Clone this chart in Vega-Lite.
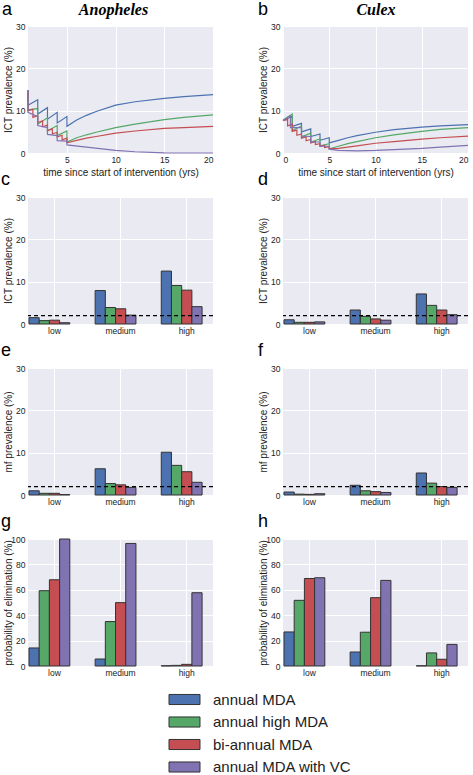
{
"$schema":"https://vega.github.io/schema/vega-lite/v6.json",
"padding":{"left":1,"top":1,"right":0,"bottom":0},
"datasets":{
"bars":[
{"v":"A","m":"ICT","l":"low","annual MDA":1.5,"annual high MDA":0.8,"bi-annual MDA":0.9,"annual MDA with VC":0.3},
{"v":"A","m":"ICT","l":"medium","annual MDA":7.9,"annual high MDA":3.9,"bi-annual MDA":3.6,"annual MDA with VC":2.1},
{"v":"A","m":"ICT","l":"high","annual MDA":12.5,"annual high MDA":9.1,"bi-annual MDA":8.0,"annual MDA with VC":4.1},
{"v":"C","m":"ICT","l":"low","annual MDA":1.0,"annual high MDA":0.4,"bi-annual MDA":0.4,"annual MDA with VC":0.5},
{"v":"C","m":"ICT","l":"medium","annual MDA":3.3,"annual high MDA":1.8,"bi-annual MDA":1.2,"annual MDA with VC":0.9},
{"v":"C","m":"ICT","l":"high","annual MDA":7.1,"annual high MDA":4.4,"bi-annual MDA":3.3,"annual MDA with VC":2.2},
{"v":"A","m":"mf","l":"low","annual MDA":1.0,"annual high MDA":0.4,"bi-annual MDA":0.4,"annual MDA with VC":0.1},
{"v":"A","m":"mf","l":"medium","annual MDA":6.2,"annual high MDA":2.7,"bi-annual MDA":2.4,"annual MDA with VC":1.8},
{"v":"A","m":"mf","l":"high","annual MDA":10.1,"annual high MDA":7.0,"bi-annual MDA":5.5,"annual MDA with VC":3.0},
{"v":"C","m":"mf","l":"low","annual MDA":0.7,"annual high MDA":0.2,"bi-annual MDA":0.15,"annual MDA with VC":0.3},
{"v":"C","m":"mf","l":"medium","annual MDA":2.3,"annual high MDA":1.0,"bi-annual MDA":0.8,"annual MDA with VC":0.6},
{"v":"C","m":"mf","l":"high","annual MDA":5.2,"annual high MDA":2.8,"bi-annual MDA":2.0,"annual MDA with VC":1.8},
{"v":"A","m":"el","l":"low","annual MDA":14.2,"annual high MDA":59.3,"bi-annual MDA":67.9,"annual MDA with VC":100},
{"v":"A","m":"el","l":"medium","annual MDA":5.5,"annual high MDA":35,"bi-annual MDA":49.9,"annual MDA with VC":96.5},
{"v":"A","m":"el","l":"high","annual MDA":0.2,"annual high MDA":0.5,"bi-annual MDA":1.3,"annual MDA with VC":57.7},
{"v":"C","m":"el","l":"low","annual MDA":26.8,"annual high MDA":51.7,"bi-annual MDA":68.9,"annual MDA with VC":69.5},
{"v":"C","m":"el","l":"medium","annual MDA":11,"annual high MDA":26.6,"bi-annual MDA":53.8,"annual MDA with VC":67.4},
{"v":"C","m":"el","l":"high","annual MDA":0.2,"annual high MDA":10.3,"bi-annual MDA":5.3,"annual MDA with VC":17}
],
"lines":[
{"v":"A","s":"annual MDA","t":1,"p":14.8},{"v":"A","s":"annual MDA","t":1,"p":11.3},{"v":"A","s":"annual MDA","t":2,"p":12.6},{"v":"A","s":"annual MDA","t":2,"p":9.2},{"v":"A","s":"annual MDA","t":3,"p":10.7},{"v":"A","s":"annual MDA","t":3,"p":8.0},{"v":"A","s":"annual MDA","t":4,"p":9.6},{"v":"A","s":"annual MDA","t":4,"p":7.1},{"v":"A","s":"annual MDA","t":5,"p":8.6},{"v":"A","s":"annual MDA","t":5,"p":6.3},{"v":"A","s":"annual MDA","t":6,"p":7.8},{"v":"A","s":"annual MDA","t":7,"p":8.9},{"v":"A","s":"annual MDA","t":8,"p":9.8},{"v":"A","s":"annual MDA","t":10,"p":11.3},{"v":"A","s":"annual MDA","t":12,"p":12.1},{"v":"A","s":"annual MDA","t":15,"p":12.9},{"v":"A","s":"annual MDA","t":17,"p":13.3},{"v":"A","s":"annual MDA","t":20,"p":13.8},
{"v":"A","s":"annual high MDA","t":1,"p":14.8},{"v":"A","s":"annual high MDA","t":1,"p":10.2},{"v":"A","s":"annual high MDA","t":2,"p":10.5},{"v":"A","s":"annual high MDA","t":2,"p":6.8},{"v":"A","s":"annual high MDA","t":3,"p":8.3},{"v":"A","s":"annual high MDA","t":3,"p":5.2},{"v":"A","s":"annual high MDA","t":4,"p":6.5},{"v":"A","s":"annual high MDA","t":4,"p":4.1},{"v":"A","s":"annual high MDA","t":5,"p":5.2},{"v":"A","s":"annual high MDA","t":5,"p":2.6},{"v":"A","s":"annual high MDA","t":6,"p":3.6},{"v":"A","s":"annual high MDA","t":7,"p":4.3},{"v":"A","s":"annual high MDA","t":8,"p":4.9},{"v":"A","s":"annual high MDA","t":10,"p":6.0},{"v":"A","s":"annual high MDA","t":12,"p":6.8},{"v":"A","s":"annual high MDA","t":15,"p":7.9},{"v":"A","s":"annual high MDA","t":17,"p":8.4},{"v":"A","s":"annual high MDA","t":20,"p":9.0},
{"v":"A","s":"bi-annual MDA","t":1,"p":14.8},{"v":"A","s":"bi-annual MDA","t":1,"p":10.0},{"v":"A","s":"bi-annual MDA","t":1.5,"p":10.3},{"v":"A","s":"bi-annual MDA","t":1.5,"p":8.4},{"v":"A","s":"bi-annual MDA","t":2,"p":8.8},{"v":"A","s":"bi-annual MDA","t":2,"p":7.2},{"v":"A","s":"bi-annual MDA","t":2.5,"p":7.6},{"v":"A","s":"bi-annual MDA","t":2.5,"p":6.2},{"v":"A","s":"bi-annual MDA","t":3,"p":6.6},{"v":"A","s":"bi-annual MDA","t":3,"p":5.3},{"v":"A","s":"bi-annual MDA","t":3.5,"p":5.7},{"v":"A","s":"bi-annual MDA","t":3.5,"p":4.5},{"v":"A","s":"bi-annual MDA","t":4,"p":4.9},{"v":"A","s":"bi-annual MDA","t":4,"p":3.8},{"v":"A","s":"bi-annual MDA","t":4.5,"p":4.2},{"v":"A","s":"bi-annual MDA","t":4.5,"p":3.1},{"v":"A","s":"bi-annual MDA","t":5,"p":3.5},{"v":"A","s":"bi-annual MDA","t":5,"p":2.4},{"v":"A","s":"bi-annual MDA","t":6,"p":3.0},{"v":"A","s":"bi-annual MDA","t":7,"p":3.5},{"v":"A","s":"bi-annual MDA","t":8,"p":3.9},{"v":"A","s":"bi-annual MDA","t":10,"p":4.7},{"v":"A","s":"bi-annual MDA","t":12,"p":5.2},{"v":"A","s":"bi-annual MDA","t":15,"p":5.8},{"v":"A","s":"bi-annual MDA","t":17,"p":6.0},{"v":"A","s":"bi-annual MDA","t":20,"p":6.3},
{"v":"A","s":"annual MDA with VC","t":1,"p":14.8},{"v":"A","s":"annual MDA with VC","t":1,"p":9.6},{"v":"A","s":"annual MDA with VC","t":2,"p":8.6},{"v":"A","s":"annual MDA with VC","t":2,"p":6.5},{"v":"A","s":"annual MDA with VC","t":3,"p":6.0},{"v":"A","s":"annual MDA with VC","t":3,"p":4.4},{"v":"A","s":"annual MDA with VC","t":4,"p":4.1},{"v":"A","s":"annual MDA with VC","t":4,"p":2.9},{"v":"A","s":"annual MDA with VC","t":5,"p":2.8},{"v":"A","s":"annual MDA with VC","t":5,"p":1.9},{"v":"A","s":"annual MDA with VC","t":7,"p":1.4},{"v":"A","s":"annual MDA with VC","t":10,"p":0.6},{"v":"A","s":"annual MDA with VC","t":12,"p":0.3},{"v":"A","s":"annual MDA with VC","t":15,"p":0.05},{"v":"A","s":"annual MDA with VC","t":20,"p":0.0},
{"v":"C","s":"annual MDA","t":0,"p":7.6},{"v":"C","s":"annual MDA","t":1,"p":8.7},{"v":"C","s":"annual MDA","t":1,"p":6.3},{"v":"C","s":"annual MDA","t":2,"p":7.0},{"v":"C","s":"annual MDA","t":2,"p":5.0},{"v":"C","s":"annual MDA","t":3,"p":5.7},{"v":"C","s":"annual MDA","t":3,"p":3.9},{"v":"C","s":"annual MDA","t":4,"p":4.5},{"v":"C","s":"annual MDA","t":4,"p":3.0},{"v":"C","s":"annual MDA","t":5,"p":3.6},{"v":"C","s":"annual MDA","t":5,"p":2.4},{"v":"C","s":"annual MDA","t":6,"p":3.0},{"v":"C","s":"annual MDA","t":7,"p":3.6},{"v":"C","s":"annual MDA","t":8,"p":4.1},{"v":"C","s":"annual MDA","t":10,"p":4.9},{"v":"C","s":"annual MDA","t":12,"p":5.5},{"v":"C","s":"annual MDA","t":15,"p":6.1},{"v":"C","s":"annual MDA","t":17,"p":6.4},{"v":"C","s":"annual MDA","t":20,"p":6.7},
{"v":"C","s":"annual high MDA","t":0,"p":7.8},{"v":"C","s":"annual high MDA","t":1,"p":9.2},{"v":"C","s":"annual high MDA","t":1,"p":5.3},{"v":"C","s":"annual high MDA","t":2,"p":6.4},{"v":"C","s":"annual high MDA","t":2,"p":3.8},{"v":"C","s":"annual high MDA","t":3,"p":4.7},{"v":"C","s":"annual high MDA","t":3,"p":2.6},{"v":"C","s":"annual high MDA","t":4,"p":3.3},{"v":"C","s":"annual high MDA","t":4,"p":1.7},{"v":"C","s":"annual high MDA","t":5,"p":2.2},{"v":"C","s":"annual high MDA","t":5,"p":1.0},{"v":"C","s":"annual high MDA","t":6,"p":1.6},{"v":"C","s":"annual high MDA","t":7,"p":2.2},{"v":"C","s":"annual high MDA","t":8,"p":2.7},{"v":"C","s":"annual high MDA","t":10,"p":3.6},{"v":"C","s":"annual high MDA","t":12,"p":4.3},{"v":"C","s":"annual high MDA","t":15,"p":5.1},{"v":"C","s":"annual high MDA","t":17,"p":5.6},{"v":"C","s":"annual high MDA","t":20,"p":6.0},
{"v":"C","s":"bi-annual MDA","t":0,"p":7.7},{"v":"C","s":"bi-annual MDA","t":0.5,"p":7.9},{"v":"C","s":"bi-annual MDA","t":0.5,"p":6.4},{"v":"C","s":"bi-annual MDA","t":1,"p":6.8},{"v":"C","s":"bi-annual MDA","t":1,"p":5.1},{"v":"C","s":"bi-annual MDA","t":1.5,"p":5.4},{"v":"C","s":"bi-annual MDA","t":1.5,"p":4.2},{"v":"C","s":"bi-annual MDA","t":2,"p":4.5},{"v":"C","s":"bi-annual MDA","t":2,"p":3.5},{"v":"C","s":"bi-annual MDA","t":2.5,"p":3.8},{"v":"C","s":"bi-annual MDA","t":2.5,"p":2.9},{"v":"C","s":"bi-annual MDA","t":3,"p":3.2},{"v":"C","s":"bi-annual MDA","t":3,"p":2.4},{"v":"C","s":"bi-annual MDA","t":3.5,"p":2.7},{"v":"C","s":"bi-annual MDA","t":3.5,"p":2.0},{"v":"C","s":"bi-annual MDA","t":4,"p":2.2},{"v":"C","s":"bi-annual MDA","t":4,"p":1.6},{"v":"C","s":"bi-annual MDA","t":4.5,"p":1.8},{"v":"C","s":"bi-annual MDA","t":4.5,"p":1.3},{"v":"C","s":"bi-annual MDA","t":5,"p":1.5},{"v":"C","s":"bi-annual MDA","t":5,"p":1.0},{"v":"C","s":"bi-annual MDA","t":6,"p":1.1},{"v":"C","s":"bi-annual MDA","t":7,"p":1.4},{"v":"C","s":"bi-annual MDA","t":8,"p":1.7},{"v":"C","s":"bi-annual MDA","t":10,"p":2.3},{"v":"C","s":"bi-annual MDA","t":12,"p":2.7},{"v":"C","s":"bi-annual MDA","t":15,"p":3.3},{"v":"C","s":"bi-annual MDA","t":17,"p":3.6},{"v":"C","s":"bi-annual MDA","t":20,"p":4.0},
{"v":"C","s":"annual MDA with VC","t":0,"p":7.7},{"v":"C","s":"annual MDA with VC","t":0.8,"p":8.8},{"v":"C","s":"annual MDA with VC","t":0.8,"p":6.0},{"v":"C","s":"annual MDA with VC","t":2,"p":6.0},{"v":"C","s":"annual MDA with VC","t":2,"p":4.0},{"v":"C","s":"annual MDA with VC","t":3,"p":3.9},{"v":"C","s":"annual MDA with VC","t":3,"p":2.6},{"v":"C","s":"annual MDA with VC","t":4,"p":2.6},{"v":"C","s":"annual MDA with VC","t":4,"p":1.6},{"v":"C","s":"annual MDA with VC","t":5,"p":1.6},{"v":"C","s":"annual MDA with VC","t":5,"p":0.9},{"v":"C","s":"annual MDA with VC","t":6,"p":0.6},{"v":"C","s":"annual MDA with VC","t":8,"p":0.5},{"v":"C","s":"annual MDA with VC","t":10,"p":0.6},{"v":"C","s":"annual MDA with VC","t":12,"p":0.8},{"v":"C","s":"annual MDA with VC","t":15,"p":1.1},{"v":"C","s":"annual MDA with VC","t":17,"p":1.4},{"v":"C","s":"annual MDA with VC","t":20,"p":1.8}
]
},
"columns":2,
"spacing":{"row":44,"column":70},
"bounds":"flush",
"resolve":{"scale":{"color":"shared"},"legend":{"color":"independent"}},
"concat":[
{"width":185,"height":127,"title":{"text":"a","dx":-26,"dy":22},
 "data":{"name":"lines"},"transform":[{"filter":"datum.v=='A'"}],
 "layer":[
  {"transform":[{"filter":"datum.s=='annual MDA'||datum.s=='annual high MDA'"}],
   "mark":{"type":"line","strokeWidth":1.2},
   "encoding":{
    "x":{"field":"t","type":"quantitative","scale":{"domain":[1,20],"nice":false},"axis":{"title":"time since start of intervention (yrs)","values":[5,10,15,20]}},
    "y":{"field":"p","type":"quantitative","scale":{"domain":[0,30],"nice":false},"axis":{"title":"ICT prevalence (%)","values":[0,5,10,15,20,25,30]}},
    "color":{"field":"s","type":"nominal","scale":{"domain":["annual MDA","annual high MDA","bi-annual MDA","annual MDA with VC"],"range":["#4C72B0","#55A868","#C44E52","#8172B2"]},"legend":null},
    "order":[{"field":"t","type":"quantitative"},{"field":"p","type":"quantitative","sort":"descending"}]}},
  {"transform":[{"filter":"datum.s=='bi-annual MDA'||datum.s=='annual MDA with VC'"}],
   "mark":{"type":"line","strokeWidth":1.2},
   "encoding":{
    "x":{"field":"t","type":"quantitative","scale":{"domain":[1,20],"nice":false},"axis":{"orient":"top","title":"Anopheles","titleX":85,"labels":false,"grid":false,"titleFont":"Liberation Serif","titleFontStyle":"italic","titleFontWeight":"bold","titleFontSize":16,"titleColor":"black","titlePadding":9}},
    "y":{"field":"p","type":"quantitative"},
    "color":{"field":"s","type":"nominal","scale":{"domain":["annual MDA","annual high MDA","bi-annual MDA","annual MDA with VC"],"range":["#4C72B0","#55A868","#C44E52","#8172B2"]},"legend":null},
    "order":[{"field":"t","type":"quantitative"},{"field":"p","type":"quantitative","sort":"descending"}]}}
 ],
 "resolve":{"axis":{"x":"independent"}}},
{"width":185,"height":127,"title":{"text":"b","dx":-25,"dy":22},
 "data":{"name":"lines"},"transform":[{"filter":"datum.v=='C'"}],
 "layer":[
  {"transform":[{"filter":"datum.s=='annual MDA'||datum.s=='annual high MDA'"}],
   "mark":{"type":"line","strokeWidth":1.2},
   "encoding":{
    "x":{"field":"t","type":"quantitative","scale":{"domain":[0,20],"nice":false},"axis":{"title":"time since start of intervention (yrs)","values":[0,5,10,15,20]}},
    "y":{"field":"p","type":"quantitative","scale":{"domain":[0,30],"nice":false},"axis":{"title":"ICT prevalence (%)","values":[0,5,10,15,20,25,30]}},
    "color":{"field":"s","type":"nominal","scale":{"domain":["annual MDA","annual high MDA","bi-annual MDA","annual MDA with VC"],"range":["#4C72B0","#55A868","#C44E52","#8172B2"]},"legend":null},
    "order":[{"field":"t","type":"quantitative"},{"field":"p","type":"quantitative","sort":"descending"}]}},
  {"transform":[{"filter":"datum.s=='bi-annual MDA'||datum.s=='annual MDA with VC'"}],
   "mark":{"type":"line","strokeWidth":1.2},
   "encoding":{
    "x":{"field":"t","type":"quantitative","scale":{"domain":[0,20],"nice":false},"axis":{"orient":"top","title":"Culex","labels":false,"grid":false,"titleFont":"Liberation Serif","titleFontStyle":"italic","titleFontWeight":"bold","titleFontSize":16,"titleColor":"black","titlePadding":9}},
    "y":{"field":"p","type":"quantitative"},
    "color":{"field":"s","type":"nominal","scale":{"domain":["annual MDA","annual high MDA","bi-annual MDA","annual MDA with VC"],"range":["#4C72B0","#55A868","#C44E52","#8172B2"]},"legend":null},
    "order":[{"field":"t","type":"quantitative"},{"field":"p","type":"quantitative","sort":"descending"}]}}
 ],
 "resolve":{"axis":{"x":"independent"}}},
{"width":185,"height":127,"title":{"text":"c","dx":-27},
 "layer":[
  {"data":{"name":"bars"},"transform":[{"filter":"datum.v=='A'&&datum.m=='ICT'"},{"fold":["annual MDA","annual high MDA","bi-annual MDA","annual MDA with VC"],"as":["s","p"]}],
   "mark":{"type":"bar","stroke":"#333","strokeWidth":1},
   "encoding":{
    "x":{"field":"l","type":"nominal","scale":{"domain":["low","medium","high"],"paddingInner":0.383,"paddingOuter":0.09,"align":0.083},"axis":{"title":null,"labelAngle":0,"bandPosition":0.62,"labelOffset":5,"grid":true}},
    "xOffset":{"field":"s","type":"nominal","scale":{"domain":["annual MDA","annual high MDA","bi-annual MDA","annual MDA with VC"],"paddingInner":0,"paddingOuter":0}},
    "y":{"field":"p","type":"quantitative","scale":{"domain":[0,30],"nice":false},"axis":{"title":"ICT prevalence (%)","values":[0,5,10,15,20,25,30]}},
    "color":{"field":"s","type":"nominal","scale":{"domain":["annual MDA","annual high MDA","bi-annual MDA","annual MDA with VC"],"range":["#4C72B0","#55A868","#C44E52","#8172B2"]},"legend":null}}},
  {"data":{"values":[{"thr":2}]},"mark":{"type":"rule","color":"black","strokeDash":[4,3],"strokeWidth":1.2},"encoding":{"y":{"field":"thr","type":"quantitative"}}}
 ]},
{"width":185,"height":127,"title":{"text":"d","dx":-25},
 "layer":[
  {"data":{"name":"bars"},"transform":[{"filter":"datum.v=='C'&&datum.m=='ICT'"},{"fold":["annual MDA","annual high MDA","bi-annual MDA","annual MDA with VC"],"as":["s","p"]}],
   "mark":{"type":"bar","stroke":"#333","strokeWidth":1},
   "encoding":{
    "x":{"field":"l","type":"nominal","scale":{"domain":["low","medium","high"],"paddingInner":0.383,"paddingOuter":0.09,"align":0.083},"axis":{"title":null,"labelAngle":0,"bandPosition":0.62,"labelOffset":5,"grid":true}},
    "xOffset":{"field":"s","type":"nominal","scale":{"domain":["annual MDA","annual high MDA","bi-annual MDA","annual MDA with VC"],"paddingInner":0,"paddingOuter":0}},
    "y":{"field":"p","type":"quantitative","scale":{"domain":[0,30],"nice":false},"axis":{"title":"ICT prevalence (%)","values":[0,5,10,15,20,25,30]}},
    "color":{"field":"s","type":"nominal","scale":{"domain":["annual MDA","annual high MDA","bi-annual MDA","annual MDA with VC"],"range":["#4C72B0","#55A868","#C44E52","#8172B2"]},"legend":null}}},
  {"data":{"values":[{"thr":2}]},"mark":{"type":"rule","color":"black","strokeDash":[4,3],"strokeWidth":1.2},"encoding":{"y":{"field":"thr","type":"quantitative"}}}
 ]},
{"width":185,"height":127,"title":{"text":"e","dx":-27},
 "layer":[
  {"data":{"name":"bars"},"transform":[{"filter":"datum.v=='A'&&datum.m=='mf'"},{"fold":["annual MDA","annual high MDA","bi-annual MDA","annual MDA with VC"],"as":["s","p"]}],
   "mark":{"type":"bar","stroke":"#333","strokeWidth":1},
   "encoding":{
    "x":{"field":"l","type":"nominal","scale":{"domain":["low","medium","high"],"paddingInner":0.383,"paddingOuter":0.09,"align":0.083},"axis":{"title":null,"labelAngle":0,"bandPosition":0.62,"labelOffset":5,"grid":true}},
    "xOffset":{"field":"s","type":"nominal","scale":{"domain":["annual MDA","annual high MDA","bi-annual MDA","annual MDA with VC"],"paddingInner":0,"paddingOuter":0}},
    "y":{"field":"p","type":"quantitative","scale":{"domain":[0,30],"nice":false},"axis":{"title":"mf prevalence (%)","values":[0,5,10,15,20,25,30]}},
    "color":{"field":"s","type":"nominal","scale":{"domain":["annual MDA","annual high MDA","bi-annual MDA","annual MDA with VC"],"range":["#4C72B0","#55A868","#C44E52","#8172B2"]},"legend":null}}},
  {"data":{"values":[{"thr":2}]},"mark":{"type":"rule","color":"black","strokeDash":[4,3],"strokeWidth":1.2},"encoding":{"y":{"field":"thr","type":"quantitative"}}}
 ]},
{"width":185,"height":127,"title":{"text":"f","dx":-25},
 "layer":[
  {"data":{"name":"bars"},"transform":[{"filter":"datum.v=='C'&&datum.m=='mf'"},{"fold":["annual MDA","annual high MDA","bi-annual MDA","annual MDA with VC"],"as":["s","p"]}],
   "mark":{"type":"bar","stroke":"#333","strokeWidth":1},
   "encoding":{
    "x":{"field":"l","type":"nominal","scale":{"domain":["low","medium","high"],"paddingInner":0.383,"paddingOuter":0.09,"align":0.083},"axis":{"title":null,"labelAngle":0,"bandPosition":0.62,"labelOffset":5,"grid":true}},
    "xOffset":{"field":"s","type":"nominal","scale":{"domain":["annual MDA","annual high MDA","bi-annual MDA","annual MDA with VC"],"paddingInner":0,"paddingOuter":0}},
    "y":{"field":"p","type":"quantitative","scale":{"domain":[0,30],"nice":false},"axis":{"title":"mf prevalence (%)","values":[0,5,10,15,20,25,30]}},
    "color":{"field":"s","type":"nominal","scale":{"domain":["annual MDA","annual high MDA","bi-annual MDA","annual MDA with VC"],"range":["#4C72B0","#55A868","#C44E52","#8172B2"]},"legend":null}}},
  {"data":{"values":[{"thr":2}]},"mark":{"type":"rule","color":"black","strokeDash":[4,3],"strokeWidth":1.2},"encoding":{"y":{"field":"thr","type":"quantitative"}}}
 ]},
{"width":185,"height":127,"title":{"text":"g","dx":-27},
 "data":{"name":"bars"},"transform":[{"filter":"datum.v=='A'&&datum.m=='el'"},{"fold":["annual MDA","annual high MDA","bi-annual MDA","annual MDA with VC"],"as":["s","p"]}],
 "mark":{"type":"bar","stroke":"#333","strokeWidth":1},
 "encoding":{
  "x":{"field":"l","type":"nominal","scale":{"domain":["low","medium","high"],"paddingInner":0.383,"paddingOuter":0.09,"align":0.083},"axis":{"title":null,"labelAngle":0,"bandPosition":0.62,"labelOffset":5,"grid":true}},
  "xOffset":{"field":"s","type":"nominal","scale":{"domain":["annual MDA","annual high MDA","bi-annual MDA","annual MDA with VC"],"paddingInner":0,"paddingOuter":0}},
  "y":{"field":"p","type":"quantitative","scale":{"domain":[0,100],"nice":false},"axis":{"title":"probability of elimination (%)","values":[0,20,40,60,80,100]}},
  "color":{"field":"s","type":"nominal","scale":{"domain":["annual MDA","annual high MDA","bi-annual MDA","annual MDA with VC"],"range":["#4C72B0","#55A868","#C44E52","#8172B2"]},"legend":{"orient":"none","legendX":148,"legendY":152,"title":null,"symbolType":"M-2,-0.65H2V0.65H-2Z","direction":"vertical"}}}},
{"width":185,"height":127,"title":{"text":"h","dx":-25},
 "data":{"name":"bars"},"transform":[{"filter":"datum.v=='C'&&datum.m=='el'"},{"fold":["annual MDA","annual high MDA","bi-annual MDA","annual MDA with VC"],"as":["s","p"]}],
 "mark":{"type":"bar","stroke":"#333","strokeWidth":1},
 "encoding":{
  "x":{"field":"l","type":"nominal","scale":{"domain":["low","medium","high"],"paddingInner":0.383,"paddingOuter":0.09,"align":0.083},"axis":{"title":null,"labelAngle":0,"bandPosition":0.62,"labelOffset":5,"grid":true}},
  "xOffset":{"field":"s","type":"nominal","scale":{"domain":["annual MDA","annual high MDA","bi-annual MDA","annual MDA with VC"],"paddingInner":0,"paddingOuter":0}},
  "y":{"field":"p","type":"quantitative","scale":{"domain":[0,100],"nice":false},"axis":{"title":"probability of elimination (%)","values":[0,20,40,60,80,100]}},
  "color":{"field":"s","type":"nominal","scale":{"domain":["annual MDA","annual high MDA","bi-annual MDA","annual MDA with VC"],"range":["#4C72B0","#55A868","#C44E52","#8172B2"]},"legend":null}}}
],
"config":{
 "view":{"fill":"#EAEAF2","stroke":null},
 "axis":{"domain":false,"ticks":false,"gridColor":"#ffffff","gridWidth":1,"gridOpacity":1,"labelFont":"Liberation Sans","labelFontSize":8.5,"labelColor":"#222222","labelPadding":3,"titleFont":"Liberation Sans","titleFontSize":10,"titleFontWeight":"normal","titleColor":"#222222","titlePadding":3},
 "axisX":{"labelPadding":2,"titlePadding":4},
 "axisY":{"titleX":-15},
 "title":{"anchor":"start","frame":"group","fontSize":18,"font":"Liberation Sans","fontWeight":"normal","color":"black","offset":4},
 "legend":{"symbolSize":240,"symbolStrokeColor":"#333333","symbolStrokeWidth":1,"symbolOpacity":1,"labelFont":"Liberation Sans","labelFontSize":15,"labelColor":"#222222","labelOffset":20,"rowPadding":5.5,"padding":0}
}
}
